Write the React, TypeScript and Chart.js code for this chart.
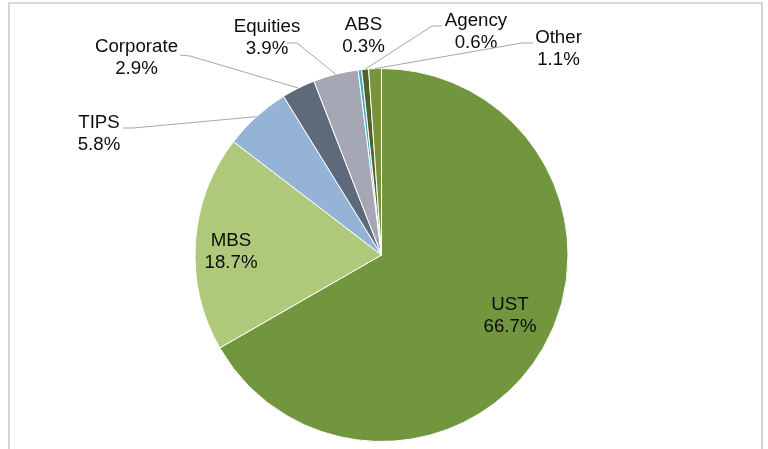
import React, { useEffect, useRef } from "react";
import { Chart, registerables } from "chart.js";

Chart.register(...registerables);

const categories = ["UST", "MBS", "TIPS", "Corporate", "Equities", "ABS", "Agency", "Other"];
const shares = [66.7, 18.7, 5.8, 2.9, 3.9, 0.3, 0.6, 1.1];
const shareLabels = ["66.7%", "18.7%", "5.8%", "2.9%", "3.9%", "0.3%", "0.6%", "1.1%"];
const sliceColors = ["#71963D", "#AFC97A", "#95B3D7", "#5E6A7C", "#A5A8B4", "#45ABC9", "#4F6228", "#77933C"];

// layout: label block centres relative to pie centre
const labelOffsets: [number, number][] = [
  [128.5, 61],
  [-150.5, -3.5],
  [-282.5, -121],
  [-245, -197.5],
  [-114.5, -217],
  [-18, -219.5],
  [94.5, -223],
  [177, -206],
];
// layout: leader line start and elbow relative to pie centre (null = none)
const leaderOffsets: ([number, number, number, number] | null)[] = [
  null,
  null,
  [-258.5, -127, -248.5, -127],
  [-201.5, -200, -191.5, -199],
  [-94.5, -212, -84.5, -212],
  null,
  [60.5, -229, 50.5, -229],
  [151.5, -212, 140.5, -212],
];

const labelPlugin = {
  id: "pieLabels",
  afterDatasetsDraw(chart: any) {
    const ctx = chart.ctx;
    const meta = chart.getDatasetMeta(0);
    ctx.save();
    meta.data.forEach((arc: any, i: number) => {
      const p = arc.getProps(["x", "y", "startAngle", "endAngle", "outerRadius"], true);
      const mid = (p.startAngle + p.endAngle) / 2;
      const ax = p.x + Math.cos(mid) * p.outerRadius;
      const ay = p.y + Math.sin(mid) * p.outerRadius;
      const ld = leaderOffsets[i];
      if (ld) {
        ctx.beginPath();
        ctx.strokeStyle = "#A6A6A6";
        ctx.lineWidth = 1;
        ctx.moveTo(p.x + ld[0], p.y + ld[1]);
        ctx.lineTo(p.x + ld[2], p.y + ld[3]);
        ctx.lineTo(ax, ay);
        ctx.stroke();
      }
      const lo = labelOffsets[i];
      const lx = p.x + lo[0];
      const ly = p.y + lo[1];
      ctx.fillStyle = "#0D0D0D";
      ctx.font = '18.7px "Liberation Sans", Arial, sans-serif';
      ctx.textAlign = "center";
      ctx.textBaseline = "middle";
      ctx.fillText(categories[i], lx, ly - 11);
      ctx.fillText(shareLabels[i], lx, ly + 11);
    });
    ctx.restore();
  },
};

export default function App() {
  const ref = useRef<HTMLCanvasElement>(null);
  useEffect(() => {
    if (!ref.current) return;
    const chart = new Chart(ref.current, {
      type: "pie",
      data: {
        labels: categories,
        datasets: [
          {
            data: shares,
            backgroundColor: sliceColors,
            borderColor: "#FFFFFF",
            borderWidth: 1,
          },
        ],
      },
      options: {
        animation: false,
        responsive: false,
        maintainAspectRatio: false,
        layout: { padding: { top: 68, bottom: 7, left: 194.5, right: 199.5 } },
        plugins: {
          legend: { display: false },
          tooltip: { enabled: false },
        },
      },
      plugins: [labelPlugin],
    });
    return () => chart.destroy();
  }, []);
  return (
    <div style={{ position: "fixed", left: 0, top: 0, width: 768, height: 449, background: "#fff", overflow: "hidden" }}>
      <div
        style={{
          position: "absolute",
          left: 8,
          top: 2,
          width: 751,
          height: 470,
          borderLeft: "2px solid #D4D4D4",
          borderRight: "2px solid #D4D4D4",
          borderTop: "2px solid #D9D9D9",
        }}
      />
      <canvas ref={ref} width={768} height={449} style={{ position: "absolute", left: 0, top: 0 }} />
    </div>
  );
}
